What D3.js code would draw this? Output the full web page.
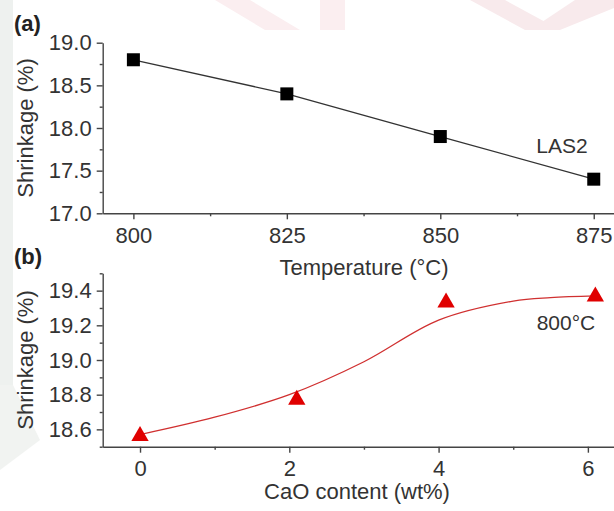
<!DOCTYPE html>
<html lang="en">
<head>
<meta charset="UTF-8">
<title>Shrinkage vs temperature and CaO content</title>
<style>
  body { margin: 0; background: #fff; }
  svg { display: block; font-family: "Liberation Sans", Arial, Helvetica, sans-serif; }
  .axis path, .axis line { stroke: #444; stroke-width: 1.4px; }
  .axis text { fill: #333; font-size: 22px; font-family: "Liberation Sans", Arial, sans-serif; }
  .title { fill: #333; font-size: 22px; }
</style>
<script src="https://d3js.org/d3.v7.min.js"></script>
</head>
<body>
<script>
// panel (a): shrinkage vs sintering temperature, LAS2
const temps = [800, 825, 850, 875];
const shrinkA = [18.8, 18.4, 17.9, 17.4];
const tempTicks = [800, 825, 850, 875];
const shrinkATicks = [17.0, 17.5, 18.0, 18.5, 19.0];

// panel (b): shrinkage vs CaO content at 800 °C
const cao = [0, 2.1, 4.1, 6.1];
const shrinkB = [18.57, 18.78, 19.34, 19.375];
// fitted curve
const fitX = [0, 1, 2, 3, 4, 5, 5.5, 6.1];
const fitY = [18.57, 18.67, 18.80, 18.99, 19.23, 19.34, 19.36, 19.37];
const caoTicks = [0, 2, 4, 6];
const shrinkBTicks = [18.6, 18.8, 19.0, 19.2, 19.4];

const W = 614, H = 511;
const svg = d3.select("body").append("svg").attr("width", W).attr("height", H);

// faint watermark shapes of the source scan
const wm = svg.append("g");
wm.append("rect").attr("x", 0).attr("y", 0).attr("width", 13).attr("height", 385).attr("fill", "#eef1ef");
wm.append("path").attr("d", "M0,385 L13,385 L40,440 L0,470 Z").attr("fill", "#f1f3f1");
wm.append("path").attr("d", "M215,0 L250,0 L300,30 L265,30 Z").attr("fill", "#fbeef0");
wm.append("path").attr("d", "M320,0 L345,0 L345,30 L320,30 Z").attr("fill", "#fbeef0");
wm.append("path").attr("d", "M470,0 L505,0 L560,30 L525,30 Z").attr("fill", "#f8eaec");
wm.append("path").attr("d", "M575,0 L614,0 L614,8 L560,30 L530,30 Z").attr("fill", "#f8eaec");

function drawAxes(g, x, y, xTicks, xMinor, yTicks, yMinor, fmtX, fmtY) {
    const xAxis = d3.axisBottom(x).tickValues(xTicks).tickSize(6).tickSizeOuter(0)
        .tickPadding(5).tickFormat(fmtX);
    const gx = g.append("g").attr("class", "axis")
        .attr("transform", `translate(0,${y.range()[0]})`).call(xAxis);
    gx.selectAll(".tick text").attr("dy", "0.85em");
    g.append("g").attr("class", "axis")
        .attr("transform", `translate(0,${y.range()[0]})`)
        .call(d3.axisBottom(x).tickValues(xMinor).tickSize(3).tickSizeOuter(0).tickFormat(""))
        .select(".domain").remove();

    const yAxis = d3.axisLeft(y).tickValues(yTicks).tickSize(6).tickSizeOuter(0)
        .tickPadding(5).tickFormat(fmtY);
    g.append("g").attr("class", "axis")
        .attr("transform", `translate(${x.range()[0]},0)`).call(yAxis);
    g.append("g").attr("class", "axis")
        .attr("transform", `translate(${x.range()[0]},0)`)
        .call(d3.axisLeft(y).tickValues(yMinor).tickSize(3).tickSizeOuter(0).tickFormat(""))
        .select(".domain").remove();
}

// ---- panel (a)
const xA = d3.scaleLinear().domain([795, 878.3]).range([102.7, 614]);
const yA = d3.scaleLinear().domain([17, 19]).range([213.3, 42.7]);
const gA = svg.append("g");
drawAxes(gA, xA, yA, tempTicks, [812.5, 837.5, 862.5], shrinkATicks,
    [17.25, 17.75, 18.25, 18.75], d3.format("d"), d3.format(".1f"));

gA.append("path")
    .datum(temps.map((t, i) => [t, shrinkA[i]]))
    .attr("fill", "none").attr("stroke", "#333").attr("stroke-width", 1.3)
    .attr("d", d3.line().x(d => xA(d[0])).y(d => yA(d[1])));

gA.selectAll("rect.pt").data(temps).enter().append("rect")
    .attr("class", "pt")
    .attr("x", (d) => xA(d) - 6.5).attr("y", (d, i) => yA(shrinkA[i]) - 6.5)
    .attr("width", 13).attr("height", 13).attr("fill", "#000");

gA.append("text").attr("class", "title").attr("x", 562).attr("y", 153)
    .attr("text-anchor", "middle").style("font-size", "21px").text("LAS2");
gA.append("text").attr("class", "title")
    .attr("transform", `translate(33,${(yA.range()[0] + yA.range()[1]) / 2}) rotate(-90)`)
    .attr("text-anchor", "middle").text("Shrinkage (%)");
svg.append("text").attr("x", 14).attr("y", 31).attr("fill", "#222")
    .style("font-size", "22px").style("font-weight", "bold").text("(a)");
svg.append("text").attr("class", "title").attr("x", 364).attr("y", 275)
    .attr("text-anchor", "middle").text("Temperature (°C)");

// ---- panel (b)
const xB = d3.scaleLinear().domain([-0.5, 6.35]).range([102.7, 614]);
const yB = d3.scaleLinear().domain([18.5, 19.5]).range([446.7, 273.3]);
const gB = svg.append("g");
drawAxes(gB, xB, yB, caoTicks, [1, 3, 5], shrinkBTicks,
    [18.5, 18.7, 18.9, 19.1, 19.3, 19.5], d3.format("d"), d3.format(".1f"));

gB.append("path")
    .datum(fitX.map((v, i) => [v, fitY[i]]))
    .attr("fill", "none").attr("stroke", "#d03030").attr("stroke-width", 1.3)
    .attr("d", d3.line().x(d => xB(d[0])).y(d => yB(d[1])).curve(d3.curveCatmullRom.alpha(0.5)));

const tri = d3.symbol().type(d3.symbolTriangle).size(130);
gB.selectAll("path.pt").data(cao).enter().append("path")
    .attr("class", "pt")
    .attr("transform", (d, i) => `translate(${xB(d)},${yB(shrinkB[i]) + 1.5})`)
    .attr("d", tri).attr("fill", "#e00000");

gB.append("text").attr("class", "title").attr("x", 566).attr("y", 330)
    .attr("text-anchor", "middle").style("font-size", "21px").text("800°C");
gB.append("text").attr("class", "title")
    .attr("transform", `translate(33,${(yB.range()[0] + yB.range()[1]) / 2}) rotate(-90)`)
    .attr("text-anchor", "middle").text("Shrinkage (%)");
svg.append("text").attr("x", 14).attr("y", 264).attr("fill", "#222")
    .style("font-size", "22px").style("font-weight", "bold").text("(b)");
svg.append("text").attr("class", "title").attr("x", 357).attr("y", 499)
    .attr("text-anchor", "middle").text("CaO content (wt%)");
</script>
</body>
</html>
